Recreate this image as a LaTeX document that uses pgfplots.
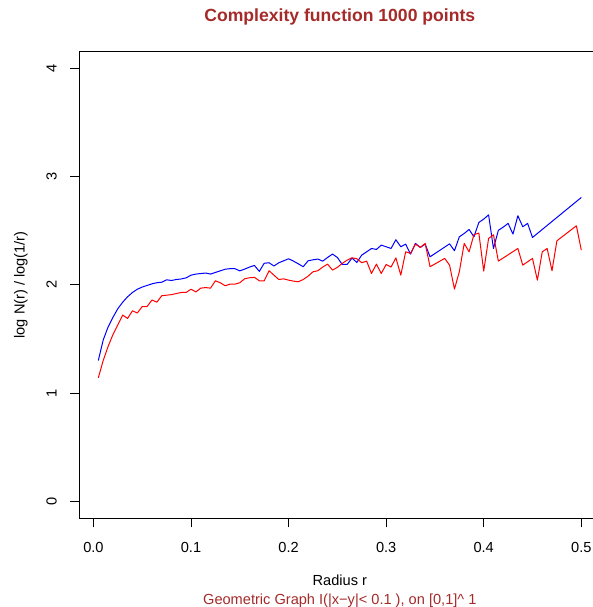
\documentclass[border=0pt]{standalone}
\usepackage{pgfplots}
\pgfplotsset{compat=1.18}
\usepackage{fontspec}
\setmainfont{Liberation Sans}
\definecolor{rbrown}{HTML}{A52A2A}
\pgfplotstableread{
r v
0.005 1.30
0.010 1.49
0.015 1.61
0.020 1.70
0.025 1.78
0.030 1.84
0.035 1.89
0.040 1.93
0.045 1.96
0.050 1.98
0.055 1.995
0.060 2.01
0.065 2.02
0.070 2.025
0.075 2.047
0.080 2.041
0.085 2.05
0.090 2.055
0.095 2.065
0.100 2.09
0.105 2.10
0.110 2.105
0.115 2.11
0.120 2.10
0.125 2.115
0.130 2.13
0.135 2.145
0.140 2.15
0.145 2.15
0.150 2.13
0.155 2.146
0.160 2.165
0.165 2.18
0.170 2.125
0.175 2.20
0.180 2.205
0.185 2.175
0.190 2.205
0.195 2.223
0.200 2.242
0.205 2.22
0.210 2.195
0.215 2.168
0.220 2.223
0.225 2.232
0.230 2.239
0.235 2.22
0.240 2.254
0.245 2.285
0.250 2.254
0.255 2.189
0.260 2.189
0.265 2.248
0.270 2.208
0.275 2.276
0.280 2.306
0.285 2.337
0.290 2.328
0.295 2.368
0.300 2.353
0.305 2.337
0.310 2.418
0.315 2.353
0.320 2.377
0.325 2.285
0.330 2.384
0.335 2.347
0.340 2.377
0.345 2.26
0.365 2.38
0.370 2.316
0.375 2.445
0.380 2.476
0.385 2.513
0.390 2.445
0.395 2.578
0.400 2.609
0.405 2.648
0.410 2.337
0.415 2.505
0.420 2.535
0.425 2.569
0.430 2.47
0.435 2.64
0.440 2.538
0.445 2.569
0.450 2.439
0.500 2.809
}\bluedata
\pgfplotstableread{
r v
0.005 1.14
0.010 1.30
0.015 1.43
0.020 1.54
0.025 1.63
0.030 1.72
0.035 1.69
0.040 1.76
0.045 1.74
0.050 1.80
0.055 1.80
0.060 1.86
0.065 1.84
0.070 1.90
0.075 1.905
0.080 1.91
0.085 1.92
0.090 1.93
0.095 1.93
0.100 1.96
0.105 1.935
0.110 1.97
0.115 1.975
0.120 1.97
0.125 2.038
0.130 2.02
0.135 1.992
0.140 2.007
0.145 2.007
0.150 2.02
0.155 2.057
0.160 2.066
0.165 2.07
0.170 2.038
0.175 2.038
0.180 2.131
0.185 2.09
0.190 2.05
0.195 2.056
0.200 2.044
0.205 2.035
0.210 2.029
0.215 2.05
0.220 2.081
0.225 2.121
0.230 2.131
0.235 2.165
0.240 2.192
0.245 2.137
0.250 2.162
0.255 2.199
0.260 2.229
0.265 2.251
0.270 2.242
0.275 2.205
0.280 2.22
0.285 2.106
0.290 2.192
0.295 2.106
0.300 2.189
0.305 2.165
0.310 2.25
0.315 2.09
0.320 2.306
0.325 2.291
0.330 2.377
0.335 2.347
0.340 2.384
0.345 2.168
0.360 2.245
0.365 2.183
0.370 1.961
0.375 2.121
0.380 2.384
0.385 2.306
0.390 2.465
0.395 2.48
0.400 2.128
0.405 2.43
0.410 2.464
0.415 2.22
0.435 2.337
0.440 2.183
0.450 2.245
0.455 2.044
0.460 2.306
0.465 2.337
0.470 2.131
0.475 2.408
0.495 2.547
0.500 2.322
}\reddata
\begin{document}
\begin{tikzpicture}
\begin{axis}[
  at={(79pt,88.7pt)}, anchor=south west,
  scale only axis, width=521.6pt, height=466.8pt,
  xmin=-0.0148, xmax=0.5198, ymin=-0.16, ymax=4.16,
  axis line style={line width=1pt, black},
  xtick={0,0.1,0.2,0.3,0.4,0.5},
  xticklabels={0.0,0.1,0.2,0.3,0.4,0.5},
  ytick={0,1,2,3,4},
  xtick pos=bottom, ytick pos=left,
  tick align=outside, major tick length=9pt,
  tick style={black, line width=0.8pt},
  /pgf/number format/assume math mode=true,
  tick label style={font=\fontsize{14.6}{17}\selectfont, inner sep=0pt},
  xticklabel style={anchor=base},
  yticklabel style={rotate=90, anchor=base},
  xticklabel shift=25.5pt,
  yticklabel shift=13.3pt,
  title={Complexity function 1000 points},
  title style={at={(axis description cs:0.5,1.0643)}, anchor=base, inner sep=0pt, yshift=-6pt,
    font=\bfseries\fontsize{17.6}{20}\selectfont, text=rbrown},
  xlabel={Radius r},
  xlabel style={at={(axis description cs:0.5,-0.1433)}, anchor=base, inner sep=0pt,
    font=\fontsize{14.6}{17}\selectfont},
  ylabel={log N(r) / log(1/r)},
  ylabel style={at={(axis description cs:-0.1043,0.5)}, anchor=base, inner sep=0pt,
    font=\fontsize{14.6}{17}\selectfont},
]
\addplot[blue, line width=1pt, line join=round] table[x=r,y=v] {\bluedata};
\addplot[red, line width=1pt, line join=round] table[x=r,y=v] {\reddata};
\end{axis}
\node[anchor=base, inner sep=0pt, text=rbrown, font=\fontsize{14.6}{17}\selectfont]
  at (339.8pt,2pt) {Geometric Graph I(|x\textminus y|< 0.1 ), on [0,1]\^{} 1};
\pgfresetboundingbox
\useasboundingbox (0,0) rectangle (593pt,607pt);
\end{tikzpicture}
\end{document}
